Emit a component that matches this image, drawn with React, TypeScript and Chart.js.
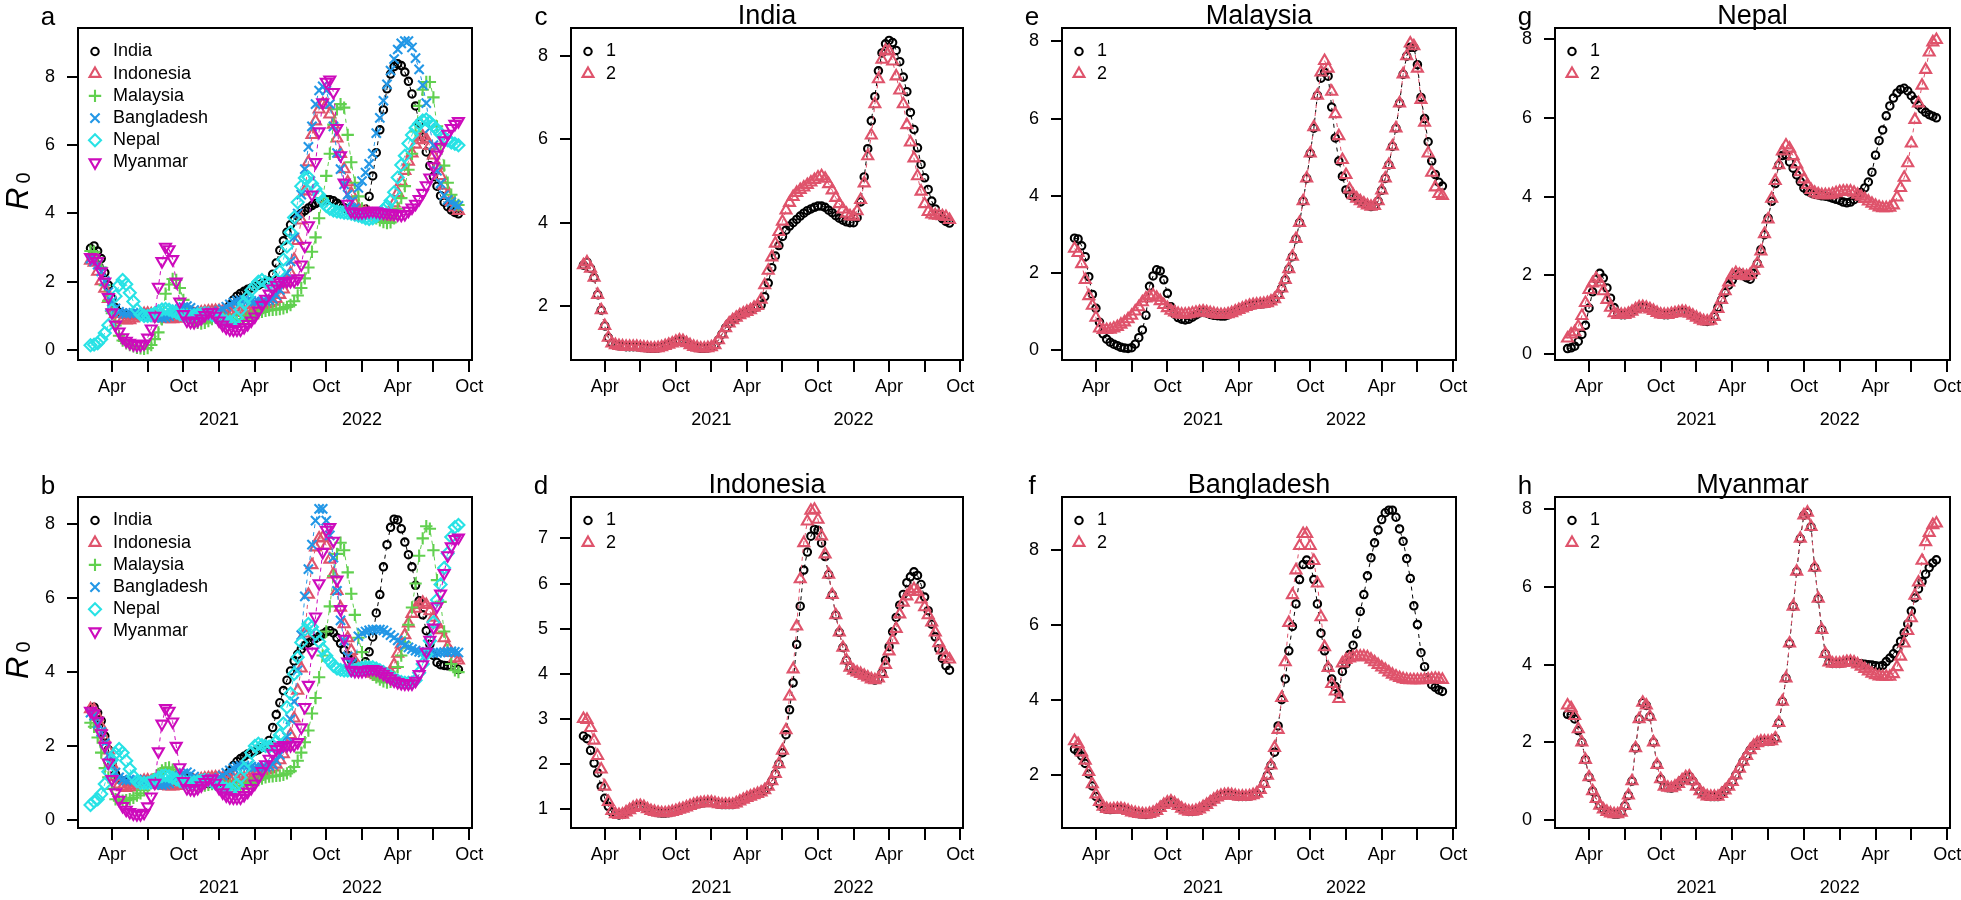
import React, { useEffect, useRef } from 'react';
import { Chart, registerables } from 'chart.js';

Chart.register(...registerables);

const FONT = "'Liberation Sans', Arial, Helvetica, sans-serif";

// ---- time grid (x position in quarter-year tick units, 0 = first "Apr") ----
const T_START = -0.6;
const T_STEP = 0.1;
const N_POINTS = 104;
const timeGrid = Array.from({ length: N_POINTS }, (_, i) => +(T_START + i * T_STEP).toFixed(2));

const xTickLabels = ['Apr', '', 'Oct', '', 'Apr', '', 'Oct', '', 'Apr', '', 'Oct'];
const yearLabels = ['2021', '2022'];
const yearTickIndex = [3, 7];

const countries = ['India', 'Indonesia', 'Malaysia', 'Bangladesh', 'Nepal', 'Myanmar'];

// ---- R0 estimates, model 1 (black circles) and model 2 (red triangles) ----
const india1 = [2.98, 3.05, 2.9, 2.68, 2.27, 1.9,
  1.52, 1.24, 1.1, 1.06, 1.04, 1.03, 1.02, 1.02, 1.02, 1.02,
  1.01, 1.0, 0.99, 0.98, 0.98, 0.99, 1.01, 1.04, 1.07, 1.1,
  1.14, 1.17, 1.16, 1.11, 1.06, 1.02, 1.0, 0.98, 0.98, 0.99,
  1.01, 1.06, 1.18, 1.32, 1.47, 1.58, 1.66, 1.72, 1.78, 1.82,
  1.86, 1.9, 1.95, 1.98, 2.02, 2.22, 2.55, 2.92, 3.2, 3.45,
  3.67, 3.82, 3.92, 4.0, 4.08, 4.16, 4.23, 4.29, 4.33, 4.37,
  4.4, 4.4, 4.37, 4.3, 4.24, 4.17, 4.11, 4.06, 4.02, 4.0,
  4.0, 4.12, 4.5, 5.1, 5.78, 6.45, 7.03, 7.65, 8.08, 8.3,
  8.38, 8.33, 8.14, 7.87, 7.5, 7.15, 6.65, 6.24, 5.8, 5.4,
  5.08, 4.8, 4.52, 4.33, 4.2, 4.1, 4.03, 3.99];
const india2 = [2.98, 3.05, 2.9, 2.68, 2.27, 1.9,
  1.52, 1.24, 1.1, 1.06, 1.04, 1.03, 1.02, 1.02, 1.02, 1.02,
  1.01, 1.0, 0.99, 0.98, 0.98, 0.99, 1.01, 1.04, 1.07, 1.1,
  1.14, 1.17, 1.16, 1.11, 1.06, 1.02, 1.0, 0.98, 0.98, 0.99,
  1.01, 1.06, 1.18, 1.32, 1.47, 1.58, 1.66, 1.72, 1.78, 1.82,
  1.86, 1.9, 1.96, 2.0, 2.15, 2.5, 2.85, 3.17, 3.5, 3.78,
  4.03, 4.3, 4.48, 4.62, 4.72, 4.79, 4.85, 4.91, 4.97, 5.03,
  5.09, 5.12, 5.06, 4.93, 4.78, 4.6, 4.45, 4.32, 4.22, 4.16,
  4.15, 4.28, 4.55, 4.95, 5.6, 6.1, 6.85, 7.45, 7.92, 8.14,
  8.12, 7.88, 7.52, 7.18, 6.85, 6.35, 5.93, 5.55, 5.12, 4.75,
  4.45, 4.26, 4.2, 4.18, 4.17, 4.16, 4.14, 4.07];

const indonesia1 = [2.62, 2.56, 2.3, 2.02, 1.8, 1.5,
  1.24, 1.06, 0.93, 0.89, 0.87, 0.88, 0.93, 0.98, 1.03, 1.06,
  1.07, 1.05, 1.0, 0.96, 0.94, 0.92, 0.91, 0.91, 0.92, 0.94,
  0.96, 0.99, 1.01, 1.04, 1.07, 1.1, 1.12, 1.13, 1.14, 1.15,
  1.15, 1.13, 1.11, 1.1, 1.1, 1.1, 1.1, 1.13, 1.17, 1.21,
  1.25, 1.28, 1.31, 1.34, 1.37, 1.42, 1.5, 1.62, 1.78, 2.0,
  2.25, 2.65, 3.2, 3.8, 4.65, 5.5, 6.3, 6.7, 7.05, 7.2,
  7.18, 6.9, 6.6, 6.2, 5.75, 5.3, 4.92, 4.58, 4.3, 4.14,
  4.07, 4.03, 4.0, 3.96, 3.92, 3.88, 3.86, 3.88, 4.02, 4.3,
  4.6, 4.93, 5.25, 5.52, 5.76, 6.02, 6.15, 6.26, 6.18, 5.98,
  5.7, 5.4, 5.1, 4.82, 4.55, 4.34, 4.18, 4.08];
const indonesia2 = [3.0, 2.98, 2.8, 2.52, 2.18, 1.88,
  1.5, 1.16, 0.96, 0.89, 0.87, 0.88, 0.93, 0.98, 1.03, 1.06,
  1.07, 1.05, 1.0, 0.96, 0.94, 0.92, 0.91, 0.91, 0.92, 0.94,
  0.96, 0.99, 1.01, 1.04, 1.07, 1.1, 1.12, 1.13, 1.14, 1.15,
  1.15, 1.13, 1.11, 1.1, 1.1, 1.1, 1.1, 1.13, 1.17, 1.21,
  1.25, 1.28, 1.31, 1.34, 1.37, 1.42, 1.5, 1.62, 1.78, 2.0,
  2.3, 2.75, 3.5, 4.1, 5.05, 6.1, 6.9, 7.38, 7.62, 7.64,
  7.42, 7.05, 6.65, 6.2, 5.75, 5.3, 4.92, 4.58, 4.3, 4.14,
  4.07, 4.03, 4.0, 3.96, 3.92, 3.88, 3.86, 3.9, 4.0, 4.2,
  4.5, 4.75, 5.0, 5.32, 5.58, 5.72, 5.82, 5.88, 5.82, 5.65,
  5.48, 5.3, 5.14, 4.92, 4.68, 4.52, 4.38, 4.32];

const malaysia1 = [2.9, 2.88, 2.7, 2.42, 1.9, 1.44,
  1.08, 0.72, 0.42, 0.28, 0.2, 0.15, 0.11, 0.07, 0.05, 0.04,
  0.06, 0.15, 0.32, 0.52, 0.9, 1.65, 1.92, 2.08, 2.05, 1.82,
  1.47, 1.12, 0.93, 0.84, 0.8, 0.78, 0.8, 0.85, 0.91, 0.96,
  1.0, 0.96, 0.92, 0.9, 0.89, 0.88, 0.88, 0.91, 0.95, 1.0,
  1.04, 1.08, 1.12, 1.15, 1.17, 1.18, 1.19, 1.2, 1.22, 1.26,
  1.32, 1.43, 1.6, 1.82, 2.1, 2.42, 2.88, 3.3, 3.86, 4.45,
  5.1, 5.75, 6.6, 7.05, 7.2, 7.1, 6.3, 5.5, 4.9, 4.5,
  4.15, 4.02, 3.98, 3.93, 3.86, 3.8, 3.75, 3.72, 3.74, 3.86,
  4.14, 4.45, 4.8, 5.28, 5.75, 6.4, 7.15, 7.62, 7.85, 7.85,
  7.4, 6.55, 6.0, 5.4, 4.9, 4.55, 4.35, 4.25];
const malaysia2 = [2.63, 2.52, 2.23, 1.82, 1.4, 1.15,
  0.84, 0.56, 0.52, 0.52, 0.53, 0.56, 0.6, 0.66, 0.72, 0.8,
  0.89, 1.0, 1.11, 1.24, 1.34, 1.4, 1.42, 1.36, 1.27, 1.17,
  1.09, 1.02, 0.98, 0.94, 0.92, 0.92, 0.93, 0.95, 0.97, 0.99,
  1.0, 0.98, 0.96, 0.94, 0.92, 0.91, 0.91, 0.93, 0.96, 1.0,
  1.04, 1.08, 1.12, 1.15, 1.17, 1.18, 1.19, 1.2, 1.22, 1.26,
  1.32, 1.43, 1.6, 1.82, 2.1, 2.42, 2.88, 3.3, 3.86, 4.45,
  5.1, 5.78, 6.6, 7.2, 7.5, 7.3, 6.7, 6.12, 5.55, 4.93,
  4.54, 4.17, 4.02, 3.93, 3.86, 3.8, 3.75, 3.72, 3.74, 3.86,
  4.14, 4.45, 4.8, 5.28, 5.75, 6.4, 7.15, 7.62, 7.95, 7.88,
  7.3, 6.49, 5.9, 5.1, 4.6, 4.22, 4.05, 4.0];

const bangladesh1 = [2.68, 2.6, 2.5, 2.3, 2.02, 1.7,
  1.42, 1.22, 1.12, 1.08, 1.07, 1.08, 1.09, 1.09, 1.07, 1.04,
  1.0, 0.98, 0.96, 0.95, 0.94, 0.96, 0.99, 1.04, 1.12, 1.2,
  1.26, 1.29, 1.24, 1.17, 1.1, 1.05, 1.02, 1.02, 1.04, 1.08,
  1.14, 1.2, 1.27, 1.34, 1.4, 1.44, 1.46, 1.47, 1.46, 1.44,
  1.42, 1.42, 1.42, 1.43, 1.46, 1.5, 1.6, 1.76, 1.98, 2.25,
  2.6, 3.3, 4.0, 4.55, 5.3, 5.95, 6.55, 7.2, 7.6, 7.72,
  7.6, 7.2, 6.55, 5.77, 5.3, 4.85, 4.55, 4.35, 4.15, 4.75,
  4.95, 5.2, 5.45, 5.75, 6.35, 6.8, 7.3, 7.78, 8.18, 8.52,
  8.8, 8.98, 9.05, 9.05, 8.86, 8.55, 8.22, 7.76, 7.23, 6.5,
  6.0, 5.25, 4.88, 4.53, 4.4, 4.33, 4.26, 4.22];
const bangladesh2 = [2.9, 2.82, 2.6, 2.38, 2.08, 1.75,
  1.48, 1.28, 1.15, 1.09, 1.07, 1.08, 1.09, 1.09, 1.07, 1.04,
  1.0, 0.98, 0.96, 0.95, 0.94, 0.96, 0.99, 1.04, 1.12, 1.2,
  1.26, 1.29, 1.24, 1.17, 1.1, 1.05, 1.02, 1.02, 1.04, 1.08,
  1.14, 1.2, 1.27, 1.34, 1.4, 1.44, 1.46, 1.47, 1.46, 1.44,
  1.42, 1.42, 1.42, 1.43, 1.46, 1.5, 1.6, 1.76, 1.98, 2.25,
  2.72, 3.2, 4.05, 5.0, 6.05, 6.79, 7.45, 8.1, 8.42, 8.42,
  8.1, 7.7, 7.1, 6.2, 5.4, 4.85, 4.42, 4.22, 4.02, 4.97,
  5.06, 5.1, 5.13, 5.15, 5.15, 5.15, 5.13, 5.07, 5.0, 4.93,
  4.86, 4.8, 4.73, 4.67, 4.62, 4.58, 4.55, 4.53, 4.52, 4.52,
  4.52, 4.52, 4.53, 4.54, 4.55, 4.56, 4.55, 4.53];

const nepal1 = [0.14, 0.16, 0.2, 0.32, 0.5, 0.73,
  1.17, 1.58, 1.9, 2.05, 1.93, 1.68, 1.42, 1.18, 1.04, 1.0,
  1.0, 1.03, 1.08, 1.14, 1.19, 1.2, 1.18, 1.14, 1.1, 1.05,
  1.01, 1.0, 1.0, 1.02, 1.04, 1.06, 1.08, 1.07, 1.03, 0.98,
  0.93, 0.88, 0.84, 0.83, 0.85, 0.95, 1.18, 1.38, 1.56, 1.75,
  1.88, 2.0, 2.05, 1.99, 1.94, 1.9, 2.05, 2.3, 2.65, 3.03,
  3.45, 3.88, 4.33, 4.8, 5.04, 5.06, 4.88, 4.72, 4.55, 4.38,
  4.22, 4.14, 4.09, 4.06, 4.04, 4.02, 4.01, 3.99, 3.96, 3.93,
  3.9, 3.86, 3.84, 3.86, 3.92, 4.0, 4.1, 4.22, 4.37, 4.62,
  5.05, 5.42, 5.69, 6.05, 6.3, 6.5, 6.63, 6.72, 6.75, 6.68,
  6.56, 6.45, 6.32, 6.22, 6.14, 6.08, 6.04, 6.0];
const nepal2 = [0.4, 0.5, 0.56, 0.7, 0.97, 1.3,
  1.63, 1.8, 1.92, 1.82, 1.6, 1.38, 1.18, 1.04, 1.0, 1.0,
  1.0, 1.03, 1.08, 1.14, 1.19, 1.2, 1.18, 1.14, 1.1, 1.05,
  1.01, 1.0, 1.0, 1.02, 1.04, 1.06, 1.08, 1.07, 1.03, 0.98,
  0.93, 0.88, 0.84, 0.83, 0.85, 0.95, 1.15, 1.38, 1.6, 1.82,
  2.0, 2.06, 2.02, 2.0, 1.98, 2.02, 2.12, 2.3, 2.61, 3.05,
  3.42, 3.95, 4.4, 4.8, 5.15, 5.3, 5.22, 5.03, 4.82, 4.62,
  4.44, 4.3, 4.17, 4.1, 4.06, 4.04, 4.04, 4.04, 4.06, 4.09,
  4.12, 4.13, 4.13, 4.13, 4.1, 4.05, 4.0, 3.94, 3.88, 3.82,
  3.77, 3.73, 3.71, 3.71, 3.72, 3.78, 3.98, 4.22, 4.48, 4.85,
  5.35, 5.95, 6.37, 6.82, 7.22, 7.66, 7.92, 7.98];

const myanmar1 = [2.72, 2.7, 2.6, 2.3, 2.0, 1.55,
  1.1, 0.74, 0.54, 0.37, 0.27, 0.21, 0.17, 0.15, 0.15, 0.19,
  0.36, 0.63, 1.0, 1.85, 2.6, 3.02, 2.95, 2.66, 2.0, 1.42,
  1.05, 0.86, 0.83, 0.82, 0.86, 0.93, 1.02, 1.1, 1.12, 1.0,
  0.86, 0.74, 0.66, 0.61, 0.6, 0.6, 0.6, 0.67, 0.76, 0.86,
  0.98, 1.15, 1.32, 1.5, 1.65, 1.8, 1.91, 1.98, 2.02, 2.02,
  2.02, 2.03, 2.1, 2.5, 3.05, 3.65, 4.55, 5.5, 6.4, 7.25,
  7.85, 7.92, 7.55, 6.5, 5.7, 4.9, 4.28, 4.06, 4.03, 4.03,
  4.03, 4.05, 4.07, 4.08, 4.06, 4.03, 4.02, 4.01, 4.0, 3.99,
  3.97, 3.96, 3.98, 4.08, 4.17, 4.28, 4.42, 4.6, 4.82, 5.05,
  5.38, 5.72, 5.95, 6.14, 6.33, 6.5, 6.62, 6.7];
const myanmar2 = [2.95, 2.88, 2.68, 2.34, 2.0, 1.55,
  1.1, 0.74, 0.54, 0.37, 0.27, 0.21, 0.17, 0.15, 0.15, 0.19,
  0.36, 0.63, 1.0, 1.85, 2.6, 3.02, 2.95, 2.66, 2.0, 1.42,
  1.05, 0.86, 0.83, 0.82, 0.86, 0.93, 1.02, 1.1, 1.12, 1.0,
  0.86, 0.74, 0.66, 0.61, 0.6, 0.6, 0.6, 0.67, 0.76, 0.86,
  0.98, 1.15, 1.32, 1.5, 1.65, 1.8, 1.91, 1.98, 2.02, 2.02,
  2.02, 2.03, 2.1, 2.5, 3.05, 3.65, 4.55, 5.5, 6.4, 7.25,
  7.85, 7.92, 7.55, 6.5, 5.7, 4.9, 4.28, 4.06, 4.03, 4.03,
  4.03, 4.05, 4.07, 4.08, 4.06, 4.01, 3.95, 3.89, 3.83, 3.77,
  3.73, 3.7, 3.69, 3.69, 3.69, 3.76, 3.94, 4.21, 4.55, 4.87,
  5.2, 5.78, 6.12, 6.68, 7.16, 7.4, 7.6, 7.64];

const model1 = [india1, indonesia1, malaysia1, bangladesh1, nepal1, myanmar1];
const model2 = [india2, indonesia2, malaysia2, bangladesh2, nepal2, myanmar2];
const modelLabels = ['1', '2'];

// ---- styles ----
const seriesColors = ['#000000', '#DF536B', '#61D04F', '#2297E6', '#28E2E5', '#CD0BBC'];
type Marker = { style: string; radius: number; rotation: number };
const MK_CIRCLE: Marker = { style: 'circle', radius: 3.7, rotation: 0 };
const MK_TRI: Marker = { style: 'triangle', radius: 6.3, rotation: 0 };
const countryMarkers: Marker[] = [
  MK_CIRCLE,
  MK_TRI,
  { style: 'cross', radius: 6.2, rotation: 0 },
  { style: 'crossRot', radius: 6.5, rotation: 0 },
  { style: 'rectRot', radius: 6.0, rotation: 0 },
  { style: 'triangle', radius: 6.3, rotation: 180 },
];
const LINE_W = 2.1;

type Series = { label: string; values: number[]; color: string; marker: Marker };
type Panel = {
  key: string; letter: string; title?: string; ylab?: boolean;
  series: Series[]; yMin: number; yMax: number; yTicks: number[];
  box: { L: number; T: number; R: number; B: number };
};

const X_MIN = -0.95;
const X_MAX = 10.08;
const PAD_L = 78;
const PAD_T = 28;
const PAD_R = 22;
const AXIS_H = 72;

const allCountries = (model: number[][]): Series[] =>
  countries.map((c, i) => ({ label: c, values: model[i], color: seriesColors[i], marker: countryMarkers[i] }));
const twoModels = (i: number): Series[] => [
  { label: modelLabels[0], values: model1[i], color: seriesColors[0], marker: MK_CIRCLE },
  { label: modelLabels[1], values: model2[i], color: seriesColors[1], marker: MK_TRI },
];

const panels: Panel[] = [
  { key: 'a', letter: 'a', ylab: true, series: allCountries(model1), yMin: -0.29, yMax: 9.43, yTicks: [0, 2, 4, 6, 8], box: { L: 78, T: 28, R: 472, B: 360 } },
  { key: 'b', letter: 'b', ylab: true, series: allCountries(model2), yMin: -0.22, yMax: 8.74, yTicks: [0, 2, 4, 6, 8], box: { L: 78, T: 497, R: 472, B: 828 } },
  { key: 'c', letter: 'c', title: countries[0], series: twoModels(0), yMin: 0.7, yMax: 8.68, yTicks: [2, 4, 6, 8], box: { L: 571, T: 28, R: 963, B: 360 } },
  { key: 'd', letter: 'd', title: countries[1], series: twoModels(1), yMin: 0.58, yMax: 7.92, yTicks: [1, 2, 3, 4, 5, 6, 7], box: { L: 571, T: 497, R: 963, B: 828 } },
  { key: 'e', letter: 'e', title: countries[2], series: twoModels(2), yMin: -0.26, yMax: 8.35, yTicks: [0, 2, 4, 6, 8], box: { L: 1062, T: 28, R: 1456, B: 360 } },
  { key: 'f', letter: 'f', title: countries[3], series: twoModels(3), yMin: 0.58, yMax: 9.4, yTicks: [2, 4, 6, 8], box: { L: 1062, T: 497, R: 1456, B: 828 } },
  { key: 'g', letter: 'g', title: countries[4], series: twoModels(4), yMin: -0.15, yMax: 8.28, yTicks: [0, 2, 4, 6, 8], box: { L: 1555, T: 28, R: 1950, B: 360 } },
  { key: 'h', letter: 'h', title: countries[5], series: twoModels(5), yMin: -0.21, yMax: 8.32, yTicks: [0, 2, 4, 6, 8], box: { L: 1555, T: 497, R: 1950, B: 828 } },
];

function drawMarker(ctx: CanvasRenderingContext2D, m: Marker, color: string, x: number, y: number) {
  const r = m.radius;
  ctx.save();
  ctx.strokeStyle = color;
  ctx.lineWidth = LINE_W;
  ctx.beginPath();
  const rot = (m.rotation * Math.PI) / 180;
  if (m.style === 'circle') {
    ctx.arc(x, y, r, 0, Math.PI * 2);
  } else if (m.style === 'triangle') {
    for (let k = 0; k < 3; k++) {
      const a = rot + (k * 2 * Math.PI) / 3;
      const px = x + Math.sin(a) * r;
      const py = y - Math.cos(a) * r;
      if (k === 0) ctx.moveTo(px, py); else ctx.lineTo(px, py);
    }
    ctx.closePath();
  } else if (m.style === 'cross') {
    ctx.moveTo(x - r, y); ctx.lineTo(x + r, y);
    ctx.moveTo(x, y - r); ctx.lineTo(x, y + r);
  } else if (m.style === 'crossRot') {
    const d = Math.SQRT1_2 * r;
    ctx.moveTo(x - d, y - d); ctx.lineTo(x + d, y + d);
    ctx.moveTo(x - d, y + d); ctx.lineTo(x + d, y - d);
  } else if (m.style === 'rectRot') {
    ctx.moveTo(x - r, y); ctx.lineTo(x, y - r); ctx.lineTo(x + r, y); ctx.lineTo(x, y + r);
    ctx.closePath();
  }
  ctx.stroke();
  ctx.restore();
}

function makeConfig(p: Panel): any {
  const n = p.series.length;
  const datasets = p.series.map((s, i) => ({
    label: s.label,
    data: timeGrid.map((t, k) => ({ x: t, y: s.values[k] })),
    showLine: true,
    borderColor: s.color,
    borderWidth: 1,
    borderDash: [4, 4],
    pointStyle: s.marker.style,
    pointRadius: s.marker.radius,
    pointHoverRadius: s.marker.radius,
    pointRotation: s.marker.rotation,
    pointBorderColor: s.color,
    pointBackgroundColor: 'rgba(0,0,0,0)',
    pointBorderWidth: LINE_W,
    order: n - i,
    clip: false,
    tension: 0,
  }));

  const annot = {
    id: 'annot_' + p.key,
    afterDraw(chart: any) {
      const { ctx, chartArea: ca, scales } = chart;
      ctx.save();
      ctx.strokeStyle = '#000';
      ctx.lineWidth = 2;
      ctx.strokeRect(ca.left, ca.top, ca.right - ca.left, ca.bottom - ca.top);
      ctx.fillStyle = '#000';
      ctx.textAlign = 'center';
      ctx.textBaseline = 'alphabetic';
      ctx.font = `26px ${FONT}`;
      ctx.fillText(p.letter, ca.left - 30, ca.top - 3);
      if (p.title) {
        ctx.font = `27px ${FONT}`;
        ctx.fillText(p.title, (ca.left + ca.right) / 2, ca.top - 4);
      }
      ctx.font = `18px ${FONT}`;
      ctx.textBaseline = 'middle';
      yearLabels.forEach((yl, i) => {
        ctx.fillText(yl, scales.x.getPixelForValue(yearTickIndex[i]), ca.bottom + 60);
      });
      p.series.forEach((s, i) => {
        const y = ca.top + 23.5 + 22.2 * i;
        drawMarker(ctx, s.marker, s.color, ca.left + 17, y);
        ctx.fillStyle = '#000';
        ctx.textAlign = 'left';
        ctx.font = `18px ${FONT}`;
        ctx.fillText(s.label, ca.left + 35, y);
      });
      if (p.ylab) {
        ctx.save();
        ctx.translate(ca.left - 50, ca.top + 182);
        ctx.rotate(-Math.PI / 2);
        ctx.textAlign = 'left';
        ctx.textBaseline = 'alphabetic';
        ctx.font = `italic 31px ${FONT}`;
        ctx.fillText('R', 0, 0);
        const w = ctx.measureText('R').width;
        ctx.font = `20px ${FONT}`;
        ctx.fillText('0', w + 4, 2);
        ctx.restore();
      }
      ctx.restore();
    },
  };

  const gridOpts = (len: number) => ({
    drawOnChartArea: false,
    drawTicks: true,
    tickLength: len,
    color: '#000',
    lineWidth: 2,
  });

  return {
    type: 'scatter',
    data: { datasets },
    options: {
      animation: false,
      responsive: false,
      maintainAspectRatio: false,
      devicePixelRatio: 1,
      events: [],
      layout: { padding: { left: 0, top: PAD_T, right: PAD_R, bottom: 0 } },
      plugins: { legend: { display: false }, tooltip: { enabled: false }, title: { display: false } },
      scales: {
        x: {
          type: 'linear',
          min: X_MIN,
          max: X_MAX,
          afterBuildTicks: (s: any) => { s.ticks = xTickLabels.map((_, i) => ({ value: i })); },
          afterFit: (s: any) => { s.height = AXIS_H; },
          ticks: {
            autoSkip: false, maxRotation: 0, minRotation: 0, padding: 4, color: '#000',
            font: { size: 18, family: FONT },
            callback: (_v: any, i: number) => xTickLabels[i],
          },
          grid: gridOpts(12),
          border: { display: false },
        },
        y: {
          type: 'linear',
          min: p.yMin,
          max: p.yMax,
          afterBuildTicks: (s: any) => { s.ticks = p.yTicks.map((v) => ({ value: v })); },
          afterFit: (s: any) => { s.width = PAD_L; },
          ticks: {
            padding: 12, color: '#000',
            font: { size: 18, family: FONT },
            callback: (v: any) => String(v),
          },
          grid: gridOpts(11),
          border: { display: false },
        },
      },
    },
    plugins: [annot],
  };
}

function PanelChart({ p }: { p: Panel }) {
  const ref = useRef<HTMLCanvasElement>(null);
  const { L, T, R, B } = p.box;
  const w = R - L + PAD_L + PAD_R;
  const h = B - T + PAD_T + AXIS_H;
  useEffect(() => {
    if (!ref.current) return;
    const chart = new Chart(ref.current, makeConfig(p));
    return () => chart.destroy();
  }, []);
  return (
    <canvas
      ref={ref}
      width={w}
      height={h}
      style={{ position: 'absolute', left: L - PAD_L, top: T - PAD_T, width: w, height: h }}
    />
  );
}

export default function App() {
  return (
    <div style={{ position: 'absolute', left: 0, top: 0, width: 1961, height: 900, overflow: 'hidden', background: '#fff' }}>
      {panels.map((p) => (
        <PanelChart key={p.key} p={p} />
      ))}
    </div>
  );
}
